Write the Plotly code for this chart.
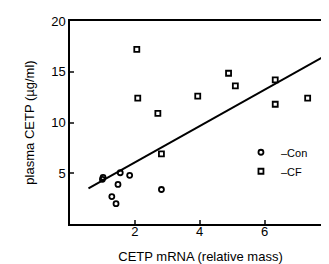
import plotly.graph_objects as go

# Con (circles)
con_x = [1.02, 1.00, 1.55, 1.84, 1.48, 1.29, 1.42, 2.82]
con_y = [4.6, 4.4, 5.05, 4.8, 3.9, 2.7, 2.0, 3.4]
# CF (squares)
cf_x = [2.06, 4.89, 5.10, 6.33, 2.09, 3.94, 7.33, 6.33, 2.71, 2.82]
cf_y = [17.2, 14.85, 13.6, 14.2, 12.4, 12.6, 12.4, 11.8, 10.9, 6.9]
# regression line endpoints
fit_x = [0.57, 8.0]
fit_y = [3.5, 16.8]

fnt = "Liberation Sans, Arial, sans-serif"

fig = go.Figure()
fig.add_trace(go.Scatter(x=fit_x, y=fit_y, mode="lines",
                         line=dict(color="black", width=2), showlegend=False))
fig.add_trace(go.Scatter(x=con_x, y=con_y, mode="markers", name="\u2013Con",
                         marker=dict(symbol="circle-open", size=5, color="black",
                                     line=dict(width=1.8, color="black"))))
fig.add_trace(go.Scatter(x=cf_x, y=cf_y, mode="markers", name="\u2013CF",
                         marker=dict(symbol="square-open", size=5, color="black",
                                     line=dict(width=1.8, color="black"))))

fig.update_layout(
    width=329, height=264,
    margin=dict(l=62, r=4, t=13, b=48),
    paper_bgcolor="white", plot_bgcolor="white",
    font=dict(family=fnt, size=13, color="black"),
    legend=dict(x=0.655, y=0.425, xanchor="left", yanchor="top",
                bgcolor="rgba(0,0,0,0)", font=dict(size=11),
                itemwidth=30, tracegroupgap=0),
    xaxis=dict(range=[0, 8.05], tickvals=[2, 4, 6, 8], ticks="inside", ticklen=4,
               tickwidth=1.5, showline=True, linecolor="black", linewidth=1.5,
               mirror=True, showgrid=False, zeroline=False,
               ticklabeloverflow="allow", ticklabelstandoff=-5,
               title=dict(text="CETP mRNA (relative mass)", standoff=14,
                          font=dict(size=13)),
               tickfont=dict(size=13)),
    yaxis=dict(range=[0, 20], tickvals=[5, 10, 15, 20], ticks="inside", ticklen=4,
               tickwidth=1.5, showline=True, linecolor="black", linewidth=1.5,
               mirror=True, showgrid=False, zeroline=False,
               title=dict(text="plasma CETP (\u00b5g/ml)", standoff=14,
                          font=dict(size=13)),
               tickfont=dict(size=13)),
)

fig.write_html("out.html")
